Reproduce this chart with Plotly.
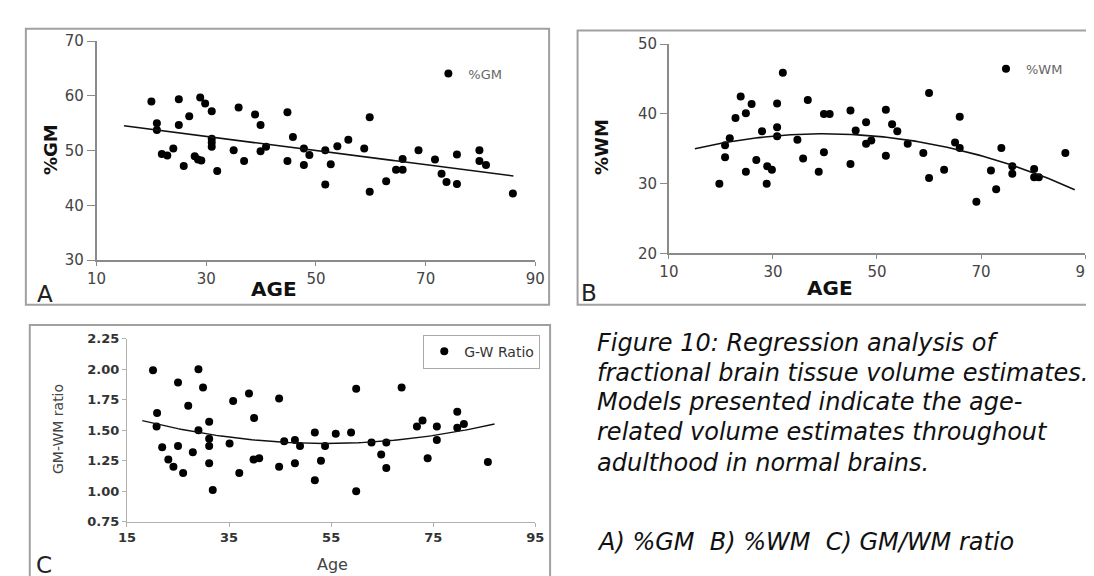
import numpy as np
import plotly.graph_objects as go

W, H = 1094, 576

# ---------------- data ----------------
gm_age = [20.0, 21.0, 21.0, 21.9, 22.9, 24.0, 25.0, 25.0, 25.9, 26.9, 27.9, 28.5, 29.1, 28.9,
          29.8, 31.0, 31.0, 31.0, 31.0, 32.0, 35.0, 35.9, 36.9, 38.9, 39.9, 39.9, 40.9, 44.8,
          44.8, 45.8, 47.8, 47.8, 48.8, 51.7, 51.7, 52.7, 53.9, 55.9, 58.8, 59.8, 59.8, 62.8,
          64.6, 65.8, 65.8, 68.7, 71.7, 72.9, 73.8, 75.7, 75.7, 79.8, 79.8, 81.0, 85.9]
gm_pct = [59.0, 55.0, 53.8, 49.4, 49.1, 50.4, 59.4, 54.7, 47.2, 56.3, 49.0, 48.4, 48.2, 59.7,
          58.6, 57.2, 52.2, 51.5, 50.7, 46.3, 50.1, 57.9, 48.1, 56.6, 54.7, 49.9, 50.7, 57.0,
          48.1, 52.5, 50.4, 47.4, 49.2, 50.1, 43.8, 47.5, 50.8, 52.0, 50.4, 56.1, 42.5, 44.4,
          46.5, 46.5, 48.5, 50.1, 48.4, 45.8, 44.3, 43.9, 49.3, 50.1, 48.1, 47.4, 42.2]

wm_age = [19.7, 20.8, 20.8, 21.7, 22.8, 23.8, 24.8, 24.8, 25.9, 26.8, 27.9, 28.8, 28.9, 29.8,
          30.8, 30.8, 30.8, 31.9, 34.7, 35.8, 36.7, 38.8, 39.8, 39.8, 40.9, 44.9, 44.9, 45.9,
          47.9, 47.9, 48.9, 51.7, 51.7, 52.9, 53.9, 55.9, 58.9, 60.0, 60.0, 62.9, 65.0, 65.9,
          65.9, 69.1, 71.9, 72.9, 73.9, 76.0, 76.0, 80.2, 80.2, 81.1, 86.2]
wm_pct = [30.0, 33.8, 35.5, 36.5, 39.4, 42.5, 40.1, 31.7, 41.4, 33.4, 37.5, 30.0, 32.5, 32.0,
          41.5, 38.1, 36.8, 45.9, 36.3, 33.6, 42.0, 31.7, 34.5, 40.0, 40.0, 40.5, 32.8, 37.6,
          38.8, 35.7, 36.2, 40.6, 34.0, 38.5, 37.5, 35.7, 34.4, 43.0, 30.8, 32.0, 35.9, 39.6,
          35.1, 27.4, 31.9, 29.2, 35.1, 32.5, 31.4, 32.1, 30.9, 30.9, 34.4]

gw_age = [20.1, 20.9, 20.8, 21.9, 23.1, 24.1, 25.0, 25.0, 26.0, 27.0, 27.9, 29.0, 29.0, 29.9,
          31.1, 31.1, 31.1, 31.1, 31.8, 35.1, 35.8, 37.0, 38.9, 39.9, 39.8, 40.9, 44.8, 44.8,
          45.8, 47.9, 47.9, 48.9, 51.8, 51.8, 53.0, 53.8, 55.9, 58.9, 59.9, 59.9, 62.9, 64.8,
          65.8, 65.8, 68.8, 71.8, 72.9, 73.9, 75.7, 75.7, 79.7, 79.7, 81.0, 85.7]
gw_ratio = [1.99, 1.64, 1.53, 1.36, 1.26, 1.20, 1.37, 1.89, 1.15, 1.70, 1.32, 2.00, 1.50, 1.85,
            1.57, 1.43, 1.37, 1.23, 1.01, 1.39, 1.74, 1.15, 1.80, 1.60, 1.26, 1.27, 1.76, 1.20,
            1.41, 1.42, 1.23, 1.37, 1.48, 1.09, 1.25, 1.37, 1.47, 1.48, 1.84, 1.00, 1.40, 1.30,
            1.40, 1.19, 1.85, 1.53, 1.58, 1.27, 1.53, 1.42, 1.65, 1.52, 1.55, 1.24]

gm_fit_span = [15, 86]
wm_fit_span = [15, 88]
gw_fit_span = [18, 87]

age_ticks_ab = [10, 30, 50, 70, 90]
age_ticks_c = [15, 35, 55, 75, 95]

caption_lines = ["Figure 10: Regression analysis of",
                 "fractional brain tissue volume estimates.",
                 "Models presented indicate the age-",
                 "related volume estimates throughout",
                 "adulthood in normal brains."]
caption_sub = "A) %GM  B) %WM  C) GM/WM ratio"


def fit_curve(x, y, deg, span):
    coef = np.polyfit(x, y, deg)
    xs = np.linspace(span[0], span[1], 120)
    return xs, np.polyval(coef, xs)


FONT = "DejaVu Sans"
fig = go.Figure()

# Panel A
fig.add_trace(go.Scatter(x=gm_age, y=gm_pct, mode="markers", name="%GM",
                         marker=dict(color="black", size=8), xaxis="x", yaxis="y",
                         legend="legend"))
xs, ys = fit_curve(gm_age, gm_pct, 1, gm_fit_span)
fig.add_trace(go.Scatter(x=xs, y=ys, mode="lines", line=dict(color="#111", width=1.6),
                         showlegend=False, xaxis="x", yaxis="y"))
# Panel B
fig.add_trace(go.Scatter(x=wm_age, y=wm_pct, mode="markers", name="%WM",
                         marker=dict(color="black", size=8), xaxis="x2", yaxis="y2",
                         legend="legend2"))
xs, ys = fit_curve(wm_age, wm_pct, 2, wm_fit_span)
fig.add_trace(go.Scatter(x=xs, y=ys, mode="lines", line=dict(color="#111", width=1.6),
                         showlegend=False, xaxis="x2", yaxis="y2"))
# Panel C
fig.add_trace(go.Scatter(x=gw_age, y=gw_ratio, mode="markers", name="G-W Ratio",
                         marker=dict(color="black", size=8), xaxis="x3", yaxis="y3",
                         legend="legend3"))
xs, ys = fit_curve(gw_age, gw_ratio, 2, gw_fit_span)
fig.add_trace(go.Scatter(x=xs, y=ys, mode="lines", line=dict(color="#111", width=1.4),
                         showlegend=False, xaxis="x3", yaxis="y3"))


def px(v):
    return v / W


def py(v):
    return 1 - v / H


axis_common = dict(showgrid=False, zeroline=False, showline=True, ticks="outside",
                   fixedrange=True)
tickfont_ab = dict(family=FONT, size=15, color="#444")
tickfont_c = dict(family=FONT, size=13, color="#333", weight="bold")

fig.update_layout(
    width=W, height=H, margin=dict(l=0, r=0, t=0, b=0),
    paper_bgcolor="white", plot_bgcolor="white",
    xaxis=dict(domain=[px(80), px(527)], range=[10, 90], tickvals=age_ticks_ab,
               linecolor="#8a8a8a", linewidth=1.5, tickcolor="#8a8a8a", ticklen=4,
               tickfont=tickfont_ab, anchor="y", **axis_common),
    yaxis=dict(domain=[py(251), py(25)], range=[30, 70], dtick=10,
               linecolor="#8a8a8a", linewidth=1.5, tickcolor="#8a8a8a", ticklen=8,
               tickfont=tickfont_ab, anchor="x", **axis_common),
    xaxis2=dict(domain=[px(663), px(1087)], range=[10, 90], tickvals=age_ticks_ab,
                linecolor="#8a8a8a", linewidth=1.5, tickcolor="#8a8a8a", ticklen=4,
                tickfont=tickfont_ab, anchor="y2", **axis_common),
    yaxis2=dict(domain=[py(244), py(28)], range=[20, 50], dtick=10,
                linecolor="#8a8a8a", linewidth=1.5, tickcolor="#8a8a8a", ticklen=7,
                tickfont=tickfont_ab, anchor="x2", **axis_common),
    xaxis3=dict(domain=[px(111), px(527)], range=[15, 95], tickvals=age_ticks_c,
                linecolor="#b0b0b0", linewidth=1.2, tickcolor="#b0b0b0", ticklen=4,
                tickfont=tickfont_c, anchor="y3", **axis_common),
    yaxis3=dict(domain=[py(521), py(332)], range=[0.75, 2.25], dtick=0.25, tickformat=".2f",
                linecolor="#b0b0b0", linewidth=1.2, tickcolor="#b0b0b0", ticklen=4,
                tickfont=tickfont_c, anchor="x3", **axis_common),
    legend=dict(x=px(418), y=py(43), xanchor="left", yanchor="top",
                font=dict(family=FONT, size=13, color="#666"), bgcolor="rgba(0,0,0,0)",
                itemwidth=30, tracegroupgap=0),
    legend2=dict(x=px(986), y=py(38), xanchor="left", yanchor="top",
                 font=dict(family=FONT, size=13, color="#666"), bgcolor="rgba(0,0,0,0)",
                 itemwidth=30),
    legend3=dict(x=px(532), y=py(328), xanchor="right", yanchor="top",
                 font=dict(family=FONT, size=14, color="#333"), bgcolor="white",
                 bordercolor="#aaa", borderwidth=1, itemwidth=30),
)

# panel frames
frame = dict(type="rect", xref="paper", yref="paper", line=dict(color="#a0a0a0", width=2),
             fillcolor="rgba(0,0,0,0)", layer="below")
fig.add_shape(x0=px(8), x1=px(541), y0=py(297), y1=py(12), **frame)
fig.add_shape(x0=px(570), x1=px(1110), y0=py(297), y1=py(14), **frame)
fig.add_shape(x0=px(12), x1=px(542), y0=py(590), y1=py(318), **frame)


def note(text, x, y, size, color="#111", bold=False, italic=False, angle=0, xanchor="center"):
    fig.add_annotation(text=text, x=px(x), y=py(y), xref="paper", yref="paper",
                       showarrow=False, textangle=angle, xanchor=xanchor, yanchor="middle",
                       font=dict(family=FONT, size=size, color=color,
                                 weight="bold" if bold else "normal",
                                 style="italic" if italic else "normal"))


# axis titles
note("%GM", 33, 137, 18, bold=True, angle=-90)
note("AGE", 261, 281, 20, bold=True)
note("%WM", 595, 134, 18, bold=True, angle=-90)
note("AGE", 827, 280, 20, bold=True)
note("GM-WM ratio", 40, 425, 14, color="#444", angle=-90)
note("Age", 320, 565, 16, color="#444")
# panel letters
note("A", 27, 286, 23, color="#222")
note("B", 582, 285, 23, color="#222")
note("C", 26, 566, 23, color="#222")
# caption
cap_y = [336, 367, 397, 428, 460]
for line, yy in zip(caption_lines, cap_y):
    note(line, 588, yy, 24, italic=True, xanchor="left")
note(caption_sub, 588, 542, 24, italic=True, xanchor="left")

fig.write_html("out.html")
